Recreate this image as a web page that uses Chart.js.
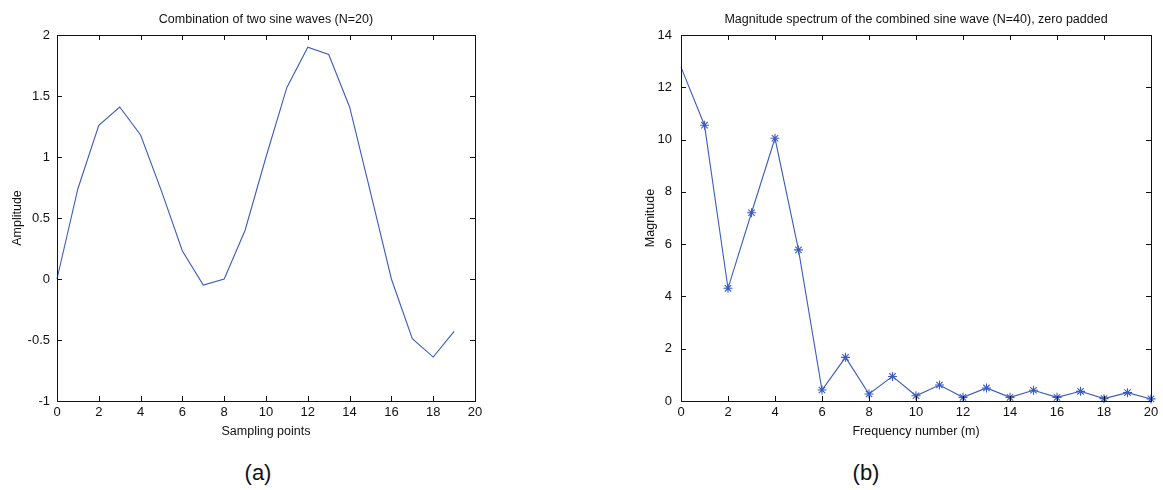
<!DOCTYPE html>
<html>
<head>
<meta charset="utf-8">
<script src="https://cdn.jsdelivr.net/npm/chart.js@4.4.0/dist/chart.umd.min.js"></script>
<style>
  body { margin: 0; background: #fff; width: 1163px; height: 490px; position: relative; overflow: hidden; font-family: "Liberation Sans", Arial, sans-serif; }
  canvas { position: absolute; top: 0; }
  #waveChart { left: 0; }
  #specChart { left: 590px; }
  .sub { position: absolute; top: 460px; font-size: 22px; color: #111; transform: translateX(-50%); line-height: 26px; }
</style>
</head>
<body>
<canvas id="waveChart" width="580" height="440"></canvas>
<canvas id="specChart" width="573" height="440"></canvas>
<div class="sub" style="left:258px">(a)</div>
<div class="sub" style="left:866px">(b)</div>
<script>
// Data
const samplePoints = [0, 1, 2, 3, 4, 5, 6, 7, 8, 9, 10, 11, 12, 13, 14, 15, 16, 17, 18, 19];
const amplitude = [0, 0.74, 1.26, 1.41, 1.18, 0.72, 0.23, -0.05, 0, 0.4, 1.0, 1.57, 1.9, 1.84, 1.41, 0.71, 0, -0.49, -0.64, -0.43];

const freqNumbers = [0, 1, 2, 3, 4, 5, 6, 7, 8, 9, 10, 11, 12, 13, 14, 15, 16, 17, 18, 19, 20];
const magnitude = [12.77, 10.55, 4.31, 7.2, 10.05, 5.78, 0.42, 1.67, 0.27, 0.94, 0.2, 0.61, 0.14, 0.5, 0.14, 0.41, 0.14, 0.37, 0.09, 0.32, 0.08];

const waveTicksX = [0, 20, 2];      // min, max, step
const waveTicksY = [-1, 2, 0.5];
const specTicksX = [0, 20, 2];
const specTicksY = [0, 14, 2];

const lineColor = "#3b5cbf";
const fontFamily = "'Liberation Sans', Arial, sans-serif";

// MATLAB style box with inward ticks on all four sides
const frameTicks = {
  id: "frameTicks",
  afterDraw(chart) {
    const { ctx, chartArea: a, scales: { x, y } } = chart;
    const len = 5;
    ctx.save();
    ctx.strokeStyle = "#111";
    ctx.lineWidth = 1;
    ctx.beginPath();
    x.ticks.forEach(t => {
      const px = Math.round(x.getPixelForValue(t.value)) + 0.5;
      ctx.moveTo(px, a.bottom); ctx.lineTo(px, a.bottom - len);
      ctx.moveTo(px, a.top); ctx.lineTo(px, a.top + len);
    });
    y.ticks.forEach(t => {
      const py = Math.round(y.getPixelForValue(t.value)) + 0.5;
      ctx.moveTo(a.left, py); ctx.lineTo(a.left + len, py);
      ctx.moveTo(a.right, py); ctx.lineTo(a.right - len, py);
    });
    ctx.stroke();
    ctx.strokeRect(Math.round(a.left) + 0.5, Math.round(a.top) + 0.5,
      Math.round(a.right - a.left), Math.round(a.bottom - a.top));
    ctx.restore();
  }
};

function makeChart(id, opts) {
  const points = opts.xs.map((v, i) => ({ x: v, y: opts.ys[i] }));
  return new Chart(document.getElementById(id).getContext("2d"), {
    type: "line",
    data: {
      datasets: [{
        data: points,
        borderColor: lineColor,
        backgroundColor: lineColor,
        borderWidth: 1.1,
        tension: 0,
        pointStyle: "star",
        pointRadius: opts.stars ? (c => c.dataIndex === 0 ? 0 : 4.5) : 0,
        pointBorderWidth: 1.1,
        pointBorderColor: lineColor,
        clip: false
      }]
    },
    options: {
      responsive: false,
      animation: false,
      layout: { padding: { left: 0, right: opts.padRight, top: 0, bottom: 0 } },
      plugins: {
        legend: { display: false },
        tooltip: { enabled: false },
        title: {
          display: true,
          text: opts.title,
          fullSize: false,
          color: "#111",
          font: { family: fontFamily, size: 12.5, weight: "normal" },
          padding: { top: 12.5, bottom: 7.5 }
        }
      },
      scales: {
        x: {
          type: "linear",
          min: opts.xTicks[0], max: opts.xTicks[1],
          grid: { display: false, drawTicks: false },
          border: { display: false },
          ticks: { stepSize: opts.xTicks[2], padding: 4, color: "#111", font: { family: fontFamily, size: 13 } },
          title: { display: true, text: opts.xTitle, color: "#111", padding: { top: 0, bottom: 1 }, font: { family: fontFamily, size: 12.5 } },
          afterFit: s => { s.height = 39; }
        },
        y: {
          type: "linear",
          min: opts.yTicks[0], max: opts.yTicks[1],
          grid: { display: false, drawTicks: false },
          border: { display: false },
          ticks: { stepSize: opts.yTicks[2], padding: opts.yPad, color: "#111", font: { family: fontFamily, size: 13 }, callback: v => String(v) },
          title: { display: true, text: opts.yTitle, color: "#111", padding: { top: opts.yTitlePad, bottom: 0 }, font: { family: fontFamily, size: 12.5 } },
          afterFit: s => { s.width = opts.yWidth; }
        }
      }
    },
    plugins: [frameTicks]
  });
}

makeChart("waveChart", {
  xs: samplePoints, ys: amplitude, stars: false,
  xTicks: waveTicksX, yTicks: waveTicksY,
  title: "Combination of two sine waves (N=20)",
  xTitle: "Sampling points", yTitle: "Amplitude",
  yWidth: 57, yPad: 7, yTitlePad: 10, padRight: 105
});

makeChart("specChart", {
  xs: freqNumbers, ys: magnitude, stars: true,
  xTicks: specTicksX, yTicks: specTicksY,
  title: "Magnitude spectrum of the combined sine wave (N=40), zero padded",
  xTitle: "Frequency number (m)", yTitle: "Magnitude",
  yWidth: 91, yPad: 9, yTitlePad: 53, padRight: 12
});
</script>
</body>
</html>
